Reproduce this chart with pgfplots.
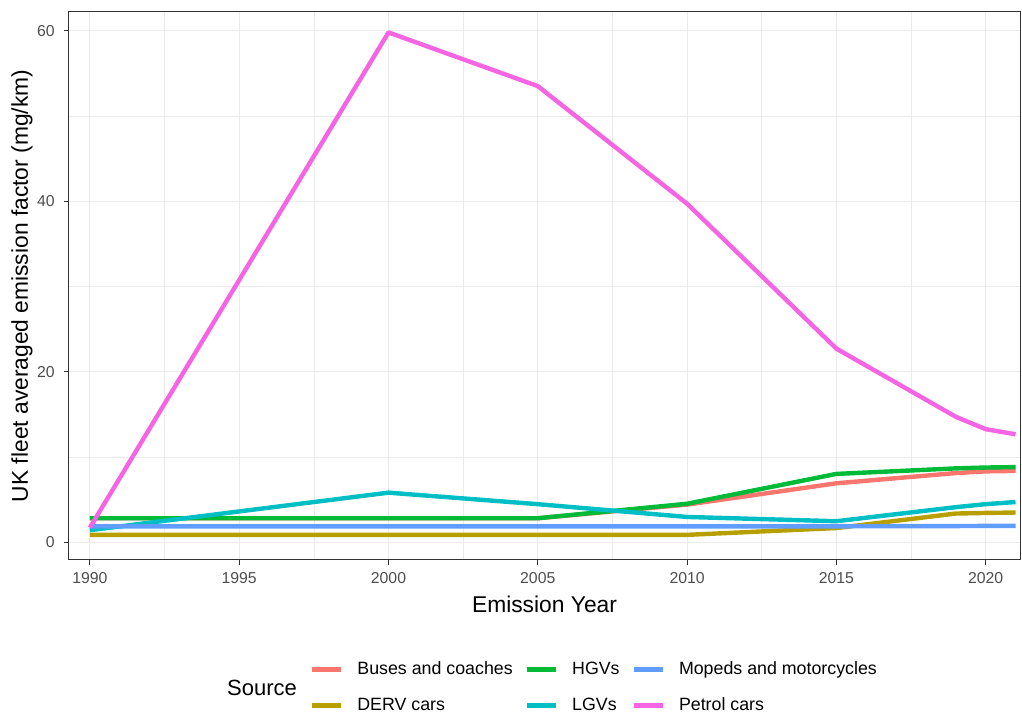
\documentclass[border=0pt]{standalone}
\usepackage{fontspec}
\setmainfont{Liberation Sans}
\usepackage{pgfplots}
\pgfplotsset{compat=1.18}
\definecolor{cBus}{HTML}{F8766D}
\definecolor{cDerv}{HTML}{B79F00}
\definecolor{cHgv}{HTML}{00BA38}
\definecolor{cLgv}{HTML}{00BFC4}
\definecolor{cMop}{HTML}{619CFF}
\definecolor{cPet}{HTML}{F564E3}
\definecolor{gridc}{HTML}{EBEBEB}
\definecolor{grey20}{HTML}{333333}
\definecolor{grey30}{HTML}{4D4D4D}
\begin{document}
\begin{tikzpicture}
\begin{axis}[
  scale only axis, width=475.5pt, height=274pt,
  xmin=1989.3, xmax=2021.15, ymin=-2.1, ymax=62.2,
  xtick={1990,1995,2000,2005,2010,2015,2020},
  ytick={0,20,40,60},
  minor xtick={1992.5,1997.5,2002.5,2007.5,2012.5,2017.5},
  minor ytick={10,30,50},
  grid=both,
  major grid style={color=gridc, line width=0.55pt},
  minor grid style={color=gridc, line width=0.3pt},
  tick align=outside, tick pos=left,
  major tick length=2.5pt, minor tick length=0pt,
  every tick/.style={color=grey20, line width=0.5pt},
  axis line style={color=grey20, line width=0.5pt},
  /pgf/number format/assume math mode=true,
  /pgf/number format/1000 sep={},
  xticklabel style={font=\fontsize{7.9}{9}\selectfont, color=grey30, anchor=north, inner sep=0pt, yshift=-3.5pt},
  yticklabel style={font=\fontsize{7.9}{9}\selectfont, color=grey30, anchor=east, inner sep=0pt, xshift=-4.5pt},
  xlabel={Emission Year},
  ylabel={UK fleet averaged emission factor (mg/km)},
  xlabel style={font=\fontsize{11.4}{13}\selectfont, at={(axis description cs:0.5,0)}, anchor=center, yshift=-22pt},
  ylabel style={font=\fontsize{11.4}{13}\selectfont, at={(axis description cs:-0.0494,0.5)}, anchor=center},
  legend columns=3,
  legend cell align=left,
  legend image code/.code={\draw[#1, line cap=butt] (0pt,0pt) -- (14.5pt,0pt);},
  legend style={draw=none, fill=none, font=\fontsize{8.9}{10}\selectfont,
    at={(axis description cs:0.2534,-0.1852)}, anchor=north west,
    inner sep=0pt, outer sep=0pt,
    nodes={inner sep=0pt, text height=6.4pt, text depth=1.8pt},
    row sep=9.8pt,
    /tikz/every odd column/.append style={column sep=7pt},
    /tikz/every even column/.append style={column sep=6pt}},
  every axis plot/.append style={line width=2.2pt, line join=round},
]
\addplot[cBus, forget plot] coordinates {(1990,2.8) (2000,2.8) (2005,2.8) (2010,4.4) (2015,6.9) (2019,8.1) (2020,8.3) (2021,8.35)};
\addplot[cDerv, forget plot] coordinates {(1990,0.85) (2000,0.85) (2005,0.85) (2010,0.85) (2015,1.65) (2019,3.35) (2020,3.42) (2021,3.47)};
\addplot[cHgv, forget plot] coordinates {(1990,2.8) (2000,2.8) (2005,2.8) (2010,4.5) (2015,8.0) (2019,8.65) (2020,8.75) (2021,8.8)};
\addplot[cLgv, forget plot] coordinates {(1990,1.4) (2000,5.8) (2005,4.45) (2010,2.95) (2015,2.45) (2019,4.1) (2020,4.45) (2021,4.7)};
\addplot[cMop, forget plot] coordinates {(1990,1.85) (2000,1.85) (2005,1.85) (2010,1.85) (2015,1.85) (2019,1.88) (2020,1.9) (2021,1.9)};
\addplot[cPet, forget plot] coordinates {(1990,1.7) (2000,59.8) (2005,53.5) (2010,39.7) (2015,22.7) (2019,14.7) (2020,13.25) (2021,12.65)};
\addlegendimage{cBus, line width=2.2pt}\addlegendentry{Buses and coaches}
\addlegendimage{cHgv, line width=2.2pt}\addlegendentry{HGVs}
\addlegendimage{cMop, line width=2.2pt}\addlegendentry{Mopeds and motorcycles}
\addlegendimage{cDerv, line width=2.2pt}\addlegendentry{DERV cars}
\addlegendimage{cLgv, line width=2.2pt}\addlegendentry{LGVs}
\addlegendimage{cPet, line width=2.2pt}\addlegendentry{Petrol cars}
\end{axis}
\node[font=\fontsize{11}{13}\selectfont, anchor=center] at ([xshift=96.5pt,yshift=-64pt]current axis.south west) {Source};
\pgfresetboundingbox
\useasboundingbox ([xshift=-34.5pt,yshift=-77.5pt]current axis.south west) rectangle ++(511pt,357.5pt);
\end{tikzpicture}
\end{document}
